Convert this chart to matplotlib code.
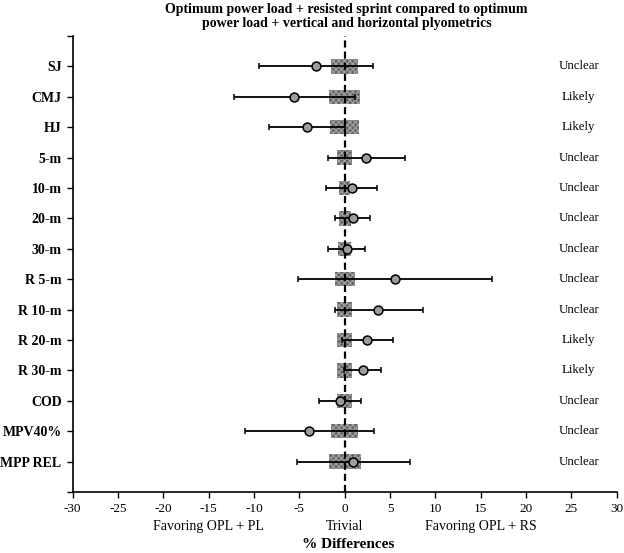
import numpy as np
import matplotlib
matplotlib.use('Agg')
from matplotlib import pyplot as plt

plt.rcParams['font.family'] = ['Liberation Serif', 'DejaVu Serif']
plt.rcParams['hatch.linewidth'] = 0.7

# data
labels = ['SJ', 'CMJ', 'HJ', '5-m', '10-m', '20-m', '30-m', 'R 5-m', 'R 10-m',
          'R 20-m', 'R 30-m', 'COD', 'MPV40%', 'MPP REL']
mean_diff = [-3.2, -5.6, -4.2, 2.4, 0.8, 0.9, 0.2, 5.6, 3.7, 2.5, 2.0, -0.55, -3.9, 0.9]
ci_low = [-9.5, -12.2, -8.3, -1.8, -2.1, -1.1, -1.8, -5.1, -1.1, -0.3, -0.1, -2.8, -10.95, -5.3]
ci_high = [3.15, 1.1, 0.0, 6.7, 3.55, 2.75, 2.2, 16.3, 8.6, 5.3, 4.0, 1.75, 3.2, 7.2]
trivial = [1.5, 1.7, 1.6, 0.8, 0.6, 0.65, 0.75, 1.1, 0.85, 0.85, 0.85, 0.8, 1.5, 1.75]
outcome = ['Unclear', 'Likely', 'Likely', 'Unclear', 'Unclear', 'Unclear', 'Unclear',
           'Unclear', 'Unclear', 'Likely', 'Likely', 'Unclear', 'Unclear', 'Unclear']
xticks = list(range(-30, 31, 5))
favour_x = [-15, 0, 15]
favour_text = ['Favoring OPL + PL', 'Trivial', 'Favoring OPL + RS']

mean_diff = np.array(mean_diff)
y = np.arange(1, len(labels) + 1)

fig = plt.figure(figsize=(6.24, 5.53), dpi=100)
ax = fig.add_axes([0.1165, 0.1103, 0.8718, 0.8246])

# trivial zone boxes
ax.barh(y, [2 * t for t in trivial], left=[-t for t in trivial], height=0.48,
        color='#686868', edgecolor='#a8a8a8', hatch='xxxxxx', linewidth=0, zorder=2)

ax.axvline(0, color='black', ls=(0, (3.2, 1.8)), lw=1.6, zorder=3)

xerr = [mean_diff - np.array(ci_low), np.array(ci_high) - mean_diff]
ax.errorbar(mean_diff, y, xerr=xerr, fmt='o', color='black', ecolor='black',
            elinewidth=1.3, capsize=2.5, capthick=1.1, markersize=6.4,
            markerfacecolor='#9c9c9c', markeredgecolor='black', markeredgewidth=1.1,
            zorder=4)

for yi, txt in zip(y, outcome):
    ax.text(25.8, yi, txt, ha='center', va='center', fontsize=9.3)

ax.set_xlim(-30, 30)
ax.set_ylim(15, 0)
ax.set_xticks(xticks)
ax.set_xticklabels([str(v) for v in xticks], fontsize=9.5)
ax.set_yticks(range(0, 16))
ax.set_yticklabels([''] + labels + [''], fontsize=10, fontweight='bold')
ax.tick_params(axis='both', direction='out', length=4, width=1, color='black', pad=4)

for side in ['top', 'right']:
    ax.spines[side].set_visible(False)
for side in ['left', 'bottom']:
    ax.spines[side].set_linewidth(1.2)

# favour annotations below the axis
for fx, ft in zip(favour_x, favour_text):
    ax.text(fx, 16.15, ft, ha='center', va='center', fontsize=10, clip_on=False)

fig.text(0.5575, 1 - 545 / 553, '% Differences', ha='center', va='center',
         fontsize=11, fontweight='bold')
fig.text(0.5555, 0.97, 'Optimum power load + resisted sprint compared to optimum\n'
         'power load + vertical and horizontal plyometrics', ha='center', va='center',
         fontsize=10, fontweight='bold', linespacing=1.05)

fig.savefig('out.png', dpi=100)
